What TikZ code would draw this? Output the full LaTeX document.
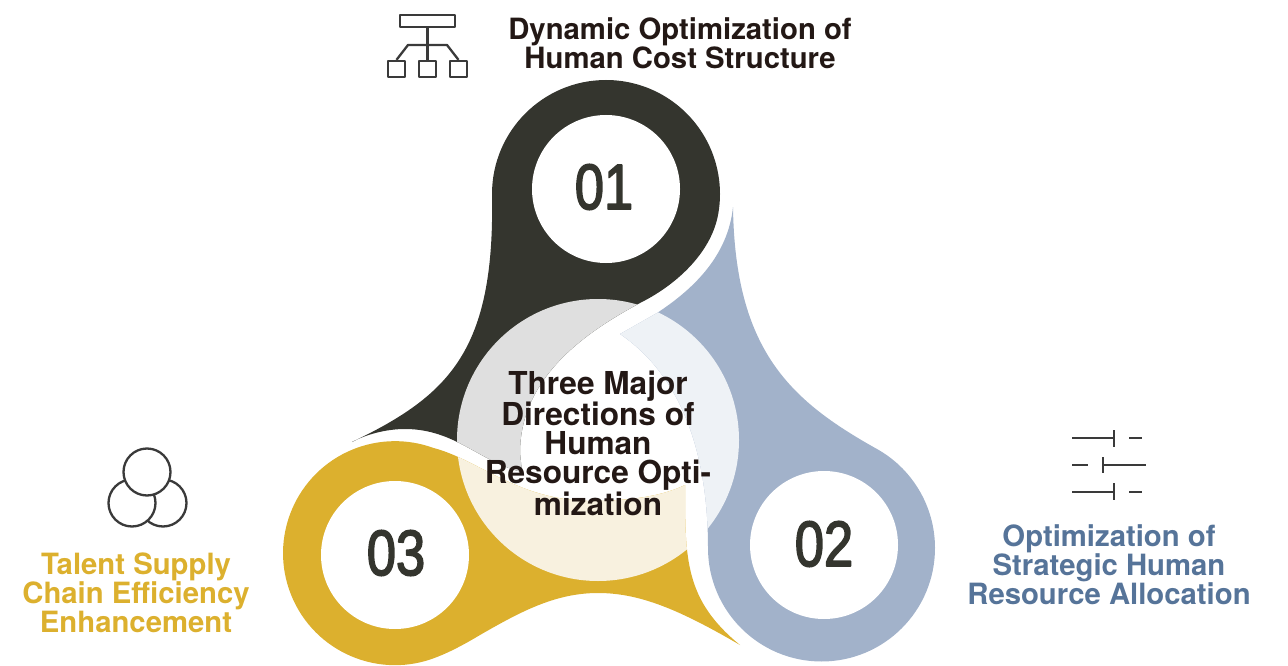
\documentclass[tikz,border=0pt]{standalone}
\usepackage{fontspec}
\setmainfont{TeX Gyre Heros}
\newfontfamily\numfont[FakeBold=2.8]{Liberation Sans}
\definecolor{darkc}{HTML}{34352E}
\definecolor{bluec}{HTML}{A2B2CA}
\definecolor{yellowc}{HTML}{DCB02E}
\definecolor{greyc}{HTML}{DFDFDF}
\definecolor{paleblue}{HTML}{EEF2F6}
\definecolor{cream}{HTML}{F8F1DF}
\definecolor{inkc}{HTML}{231815}
\definecolor{titleblue}{HTML}{567499}
\definecolor{titleyellow}{HTML}{DCB02E}
\definecolor{iconc}{HTML}{3A3A3A}
\begin{document}
\begin{tikzpicture}[x=1pt,y=-1pt,line join=round]
\tikzstyle{every node}=[inner sep=0pt]
\tikzstyle{title}=[align=center,font=\fontsize{29.3}{29}\selectfont\bfseries]
\tikzstyle{number}=[font=\fontsize{64}{64}\numfont,text=darkc,xscale=.82]
\tikzstyle{hole}=[circle,fill=white,minimum size=148pt]
\tikzstyle{iconline}=[draw=iconc,line width=2.3pt]
\tikzstyle{orgbox}=[rectangle,iconline,minimum width=17pt,minimum height=16pt]
\tikzstyle{ring}=[circle,iconline,fill=white,minimum size=47pt]
\useasboundingbox (0,0) rectangle (1288,666);
\def\darkshape{(352,442) .. controls (450,395) and (495,350) .. (492,194)
  arc[start angle=180,end angle=370,radius=114]
  .. controls (712,250) and (680,283) .. (640,303)
  .. controls (590,330) and (520,375) .. (520,453) -- (522,472)
  .. controls (480,462) and (455,429) .. (405,429)
  .. controls (385,429) and (365,435) .. (352,442) -- cycle}
\def\blueshape{(733,207) .. controls (728,255) and (695,288) .. (657,313) -- (620,334)
  .. controls (680,375) and (708,450) .. (708,548)
  arc[start angle=180,end angle=-62,radius=113.5]
  .. controls (790,400) and (735,350) .. (733,207) -- cycle}
\def\yellowshape{(437,657) arc[start angle=68,end angle=290,radius=112]
  .. controls (480,460) and (520,503) .. (598,501)
  .. controls (630,500) and (660,497) .. (685,485)
  .. controls (685,560) and (685,600) .. (740,645)
  .. controls (680,610) and (640,593) .. (598,593)
  .. controls (555,593) and (520,612) .. (480,635)
  .. controls (465,644) and (450,652) .. (437,657) -- cycle}
% three shapes
\fill[darkc] \darkshape;
\fill[bluec] \blueshape;
\fill[yellowc] \yellowshape;
% lighter inside the middle circle
\begin{scope}
\clip (598,440) circle[radius=141];
\fill[greyc] \darkshape;
\fill[paleblue] \blueshape;
\fill[cream] \yellowshape;
\end{scope}
% holes and numbers
\node[hole] (hole1) at (606,189) {};
\node[hole] (hole2) at (824,545) {};
\node[hole] (hole3) at (395,555) {};
\node[number] (num1) at (604,187) {01};
\node[number] (num2) at (824,544) {02};
\node[number] (num3) at (396,553) {03};
% texts
\node[title,text=inkc,font=\fontsize{31.6}{29}\selectfont\bfseries] (center) at (598,443) {Three Major\\Directions of\\Human\\Resource Opti-\\mization};
\node[title,text=inkc] (top) at (680,43) {Dynamic Optimization of\\Human Cost Structure};
\node[title,text=titleblue] (right) at (1109,565) {Optimization of\\Strategic Human\\Resource Allocation};
\node[title,text=titleyellow] (left) at (136,593) {Talent Supply\\Chain Efficiency\\Enhancement};
% org icon
\node[orgbox,minimum width=55pt,minimum height=12pt] (orgtop) at (427.5,21) {};
\node[orgbox] (orgleft) at (396.5,69) {};
\node[orgbox] (orgmid) at (427.5,69) {};
\node[orgbox] (orgright) at (458.5,69) {};
\draw[iconline] (orgtop) -- (orgmid);
\draw[iconline] (orgleft.north) -- (408,45) -- (447,45) -- (orgright.north);
% slider icon
\draw[iconline] (1072,438) -- (1114,438) (1114,430) -- (1114,447) (1129,438) -- (1142,438);
\draw[iconline] (1072,465) -- (1088,465) (1103,457) -- (1103,473) (1103,465) -- (1146,465);
\draw[iconline] (1072,492) -- (1114,492) (1114,483) -- (1114,500) (1129,492) -- (1142,492);
% ring icon
\node[ring] (ringright) at (163,503) {};
\node[ring] (ringleft) at (132,503) {};
\node[ring] (ringtop) at (147,472) {};
\end{tikzpicture}
\end{document}
